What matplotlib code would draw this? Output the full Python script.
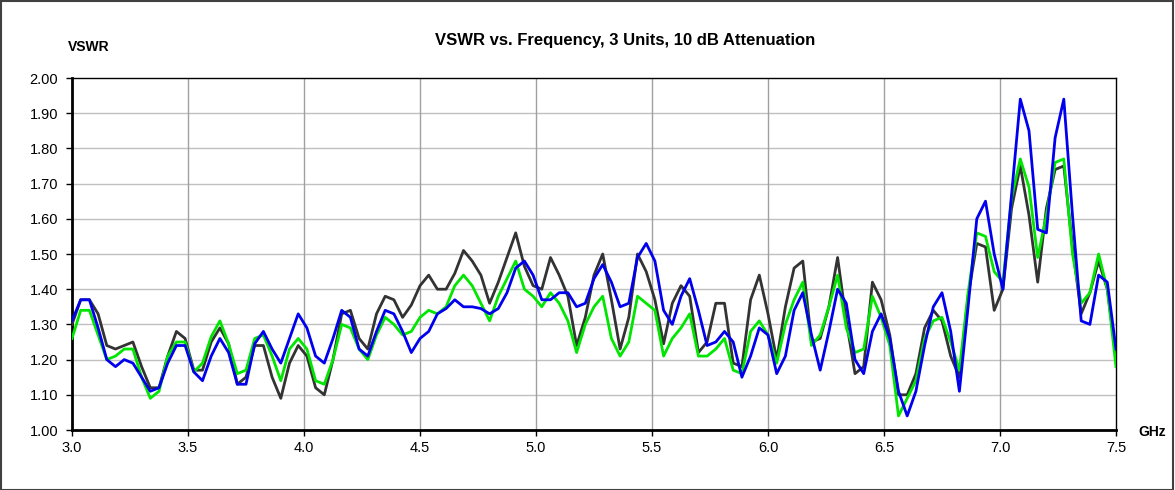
import matplotlib
matplotlib.use("Agg")
import matplotlib.pyplot as plt
import numpy as np
from matplotlib.patches import Rectangle

plt.rcParams['font.family'] = ['Liberation Sans', 'DejaVu Sans']

# Frequency points (GHz): 121 sweep points from 3.0 to 7.5
freq_start = 3.0
freq_step = 0.0375
n_points = 121
freq = [round(freq_start + i * freq_step, 4) for i in range(n_points)]

unit1 = [1.30, 1.37, 1.37, 1.33, 1.24, 1.23, 1.24, 1.25, 1.18, 1.12,
         1.12, 1.21, 1.28, 1.26, 1.17, 1.17, 1.25, 1.29, 1.245, 1.13,
         1.15, 1.24, 1.24, 1.15, 1.09, 1.19, 1.24, 1.21, 1.12, 1.10,
         1.20, 1.33, 1.34, 1.26, 1.23, 1.33, 1.38, 1.37, 1.32, 1.355,
         1.41, 1.44, 1.40, 1.40, 1.445, 1.51, 1.48, 1.44, 1.36, 1.42,
         1.49, 1.56, 1.465, 1.41, 1.40, 1.49, 1.44, 1.38, 1.24, 1.32,
         1.44, 1.50, 1.37, 1.23, 1.32, 1.50, 1.45, 1.37, 1.245, 1.36,
         1.41, 1.38, 1.22, 1.25, 1.36, 1.36, 1.19, 1.18, 1.37, 1.44,
         1.33, 1.20, 1.35, 1.46, 1.48, 1.25, 1.26, 1.35, 1.49, 1.31,
         1.16, 1.18, 1.42, 1.37, 1.27, 1.10, 1.10, 1.16, 1.29, 1.34,
         1.31, 1.21, 1.15, 1.38, 1.53, 1.52, 1.34, 1.40, 1.63, 1.75,
         1.61, 1.42, 1.63, 1.74, 1.75, 1.52, 1.33, 1.39, 1.48, 1.40,
         1.21]

unit2 = [1.26, 1.34, 1.34, 1.27, 1.20, 1.21, 1.23, 1.23, 1.15, 1.09,
         1.11, 1.21, 1.25, 1.25, 1.165, 1.19, 1.265, 1.31, 1.245, 1.16,
         1.17, 1.26, 1.27, 1.21, 1.14, 1.23, 1.26, 1.23, 1.14, 1.13,
         1.20, 1.30, 1.29, 1.23, 1.20, 1.27, 1.32, 1.30, 1.27, 1.28,
         1.32, 1.34, 1.33, 1.35, 1.41, 1.44, 1.41, 1.36, 1.31, 1.38,
         1.43, 1.48, 1.40, 1.38, 1.35, 1.39, 1.36, 1.31, 1.22, 1.30,
         1.35, 1.38, 1.26, 1.21, 1.25, 1.38, 1.36, 1.34, 1.21, 1.26,
         1.29, 1.33, 1.21, 1.21, 1.23, 1.26, 1.17, 1.16, 1.28, 1.31,
         1.27, 1.19, 1.30, 1.37, 1.42, 1.24, 1.27, 1.35, 1.44, 1.29,
         1.22, 1.23, 1.38, 1.32, 1.24, 1.04, 1.09, 1.14, 1.26, 1.31,
         1.32, 1.25, 1.17, 1.39, 1.56, 1.55, 1.45, 1.42, 1.66, 1.77,
         1.69, 1.49, 1.61, 1.76, 1.77, 1.50, 1.36, 1.39, 1.50, 1.40,
         1.18]

unit3 = [1.31, 1.37, 1.37, 1.29, 1.20, 1.18, 1.20, 1.19, 1.15, 1.11,
         1.12, 1.19, 1.24, 1.24, 1.165, 1.14, 1.21, 1.26, 1.22, 1.13,
         1.13, 1.245, 1.28, 1.23, 1.19, 1.26, 1.33, 1.29, 1.21, 1.19,
         1.26, 1.34, 1.32, 1.23, 1.21, 1.28, 1.34, 1.33, 1.28, 1.22,
         1.26, 1.28, 1.33, 1.345, 1.37, 1.35, 1.35, 1.345, 1.33, 1.345,
         1.39, 1.46, 1.48, 1.44, 1.37, 1.37, 1.39, 1.39, 1.35, 1.36,
         1.43, 1.47, 1.42, 1.35, 1.36, 1.49, 1.53, 1.48, 1.34, 1.30,
         1.38, 1.43, 1.34, 1.24, 1.25, 1.28, 1.25, 1.15, 1.21, 1.29,
         1.27, 1.16, 1.21, 1.34, 1.39, 1.27, 1.17, 1.28, 1.40, 1.36,
         1.20, 1.16, 1.28, 1.33, 1.26, 1.11, 1.04, 1.11, 1.24, 1.35,
         1.39, 1.28, 1.11, 1.35, 1.60, 1.65, 1.50, 1.40, 1.67, 1.94,
         1.85, 1.57, 1.56, 1.83, 1.94, 1.61, 1.31, 1.30, 1.44, 1.42,
         1.23]

x_ticks = [3.0, 3.5, 4.0, 4.5, 5.0, 5.5, 6.0, 6.5, 7.0, 7.5]
y_ticks = [1.00, 1.10, 1.20, 1.30, 1.40, 1.50, 1.60, 1.70, 1.80, 1.90, 2.00]

W, H = 1175, 490
fig = plt.figure(figsize=(W / 100, H / 100), dpi=100)
fig.patch.set_facecolor('white')
ax = fig.add_axes([72 / W, 1 - 430 / H, (1116 - 72) / W, (430 - 78) / H])

# outer frame
fig.patches.append(Rectangle((0.0005, 0.001), 0.998, 0.997, transform=fig.transFigure,
                             fill=False, edgecolor='#404040', linewidth=1.5))

ax.set_xlim(3.0, 7.5)
ax.set_ylim(1.0, 2.0)
ax.set_xticks(x_ticks)
ax.set_yticks(y_ticks)
ax.set_xticklabels([f"{v:.1f}" for v in x_ticks])
ax.set_yticklabels([f"{v:.2f}" for v in y_ticks])
ax.tick_params(axis='both', direction='out', length=4, width=1, labelsize=10.5, colors='black', pad=4)
ax.tick_params(axis='y', pad=6)

for y in y_ticks[1:-1]:
    ax.axhline(y, color='#c0c0c0', linewidth=1.0, zorder=1)
for x in x_ticks[1:-1]:
    ax.axvline(x, color='#a0a0a0', linewidth=1.0, zorder=1)

ax.plot(freq, unit1, color='#333333', linewidth=2.0, zorder=3)
ax.plot(freq, unit2, color='#00e600', linewidth=2.0, zorder=4)
ax.plot(freq, unit3, color='#0000ee', linewidth=2.0, zorder=5)

for side in ['top', 'right']:
    ax.spines[side].set_linewidth(1.0)
    ax.spines[side].set_color('black')
for side in ['left', 'bottom']:
    ax.spines[side].set_linewidth(2.0)
    ax.spines[side].set_color('black')

fig.text(625 / W, 1 - 40 / H, "VSWR vs. Frequency, 3 Units, 10 dB Attenuation",
         ha='center', va='center', fontsize=12, fontweight='bold')
fig.text(68 / W, 1 - 47 / H, "VSWR", ha='left', va='center', fontsize=10, fontweight='bold')
fig.text(1138 / W, 1 - 432 / H, "GHz", ha='left', va='center', fontsize=10, fontweight='bold')

fig.savefig("out.png", dpi=100)
